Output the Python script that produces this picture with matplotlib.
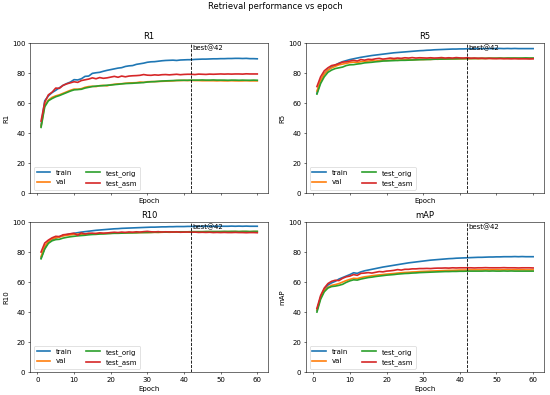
import matplotlib
matplotlib.use("Agg")
import matplotlib.pyplot as plt

epochs = list(range(1, 61))
best_epoch = 42
series_names = ["train", "val", "test_orig", "test_asm"]
metrics = ["R1", "R5", "R10", "mAP"]

# R1
r1_train = [45.0, 61.5, 64.8, 67.0, 68.5, 70.2, 71.8, 73.0, 74.0, 75.6,
            75.4, 76.2, 77.8, 78.0, 79.8, 80.2, 80.5, 81.2, 81.8, 82.3,
            82.8, 83.3, 83.6, 84.4, 84.8, 85.0, 85.8, 86.2, 86.6, 87.2,
            87.5, 87.6, 87.9, 88.2, 88.4, 88.5, 88.6, 88.4, 88.7, 88.8,
            88.9, 88.9, 89.1, 89.2, 89.3, 89.3, 89.4, 89.5, 89.5, 89.6,
            89.6, 89.7, 89.7, 89.8, 89.8, 89.7, 89.8, 89.6, 89.6, 89.5]
r1_val = [44.5, 58.5, 62.0, 63.8, 64.8, 65.5, 66.5, 67.5, 68.5, 69.3,
          69.2, 69.6, 70.5, 71.0, 71.2, 71.0, 71.6, 71.8, 71.5, 72.2,
          72.5, 72.8, 72.9, 73.2, 73.4, 73.5, 73.6, 74.0, 73.8, 74.2,
          74.3, 74.3, 74.4, 74.5, 74.6, 74.7, 74.8, 75.0, 75.0, 75.1,
          75.0, 75.1, 75.0, 75.0, 74.9, 74.9, 74.9, 74.9, 74.8, 74.9,
          74.8, 74.8, 74.9, 74.8, 74.8, 74.8, 74.9, 74.8, 74.8, 74.8]
r1_test_orig = [43.8, 57.5, 61.5, 63.0, 64.2, 65.0, 66.0, 67.0, 68.0, 68.8,
                69.0, 69.2, 70.0, 70.5, 71.0, 71.3, 71.5, 71.6, 71.9, 72.0,
                72.3, 72.5, 72.8, 73.0, 73.1, 73.2, 73.4, 73.5, 73.7, 74.0,
                74.2, 74.3, 74.5, 74.7, 74.8, 74.9, 75.0, 75.1, 75.2, 75.2,
                75.2, 75.3, 75.3, 75.3, 75.4, 75.3, 75.3, 75.4, 75.3, 75.3,
                75.3, 75.2, 75.3, 75.3, 75.2, 75.3, 75.2, 75.2, 75.3, 75.2]
r1_test_asm = [48.0, 60.5, 65.5, 67.2, 70.0, 69.8, 71.8, 72.8, 73.5, 74.2,
               73.8, 75.0, 75.5, 76.0, 76.8, 76.2, 77.0, 76.5, 76.8, 77.3,
               77.8, 77.2, 78.0, 77.5, 78.0, 78.2, 78.3, 78.5, 79.0, 78.6,
               78.5, 78.8, 78.6, 78.9, 79.0, 78.8, 79.0, 79.2, 78.9, 79.1,
               79.2, 79.2, 79.0, 79.3, 79.2, 79.1, 79.3, 79.2, 79.3, 79.4,
               79.3, 79.4, 79.3, 79.4, 79.4, 79.3, 79.5, 79.4, 79.4, 79.4]

# R5
r5_train = [66.5, 74.5, 79.5, 82.0, 84.0, 85.3, 86.6, 87.6, 88.3, 89.0,
            89.5, 90.0, 90.5, 90.9, 91.3, 91.7, 92.0, 92.3, 92.6, 92.9,
            93.2, 93.5, 93.7, 93.9, 94.1, 94.3, 94.5, 94.7, 94.9, 95.0,
            95.2, 95.3, 95.5, 95.6, 95.7, 95.8, 95.9, 96.0, 96.0, 96.1,
            96.1, 96.2, 96.2, 96.2, 96.3, 96.3, 96.3, 96.3, 96.3, 96.4,
            96.4, 96.3, 96.4, 96.3, 96.4, 96.3, 96.3, 96.3, 96.3, 96.3]
r5_val = [68.0, 75.0, 79.5, 82.0, 83.5, 84.5, 85.5, 86.0, 86.5, 87.0,
          87.3, 87.0, 87.6, 87.8, 88.0, 88.2, 88.0, 88.3, 88.5, 88.4,
          88.6, 88.8, 88.5, 88.7, 88.9, 89.0, 88.8, 89.0, 89.1, 89.0,
          89.2, 89.1, 89.3, 89.2, 89.4, 89.3, 89.5, 89.4, 89.5, 89.5,
          89.6, 89.6, 89.6, 89.7, 89.6, 89.7, 89.7, 89.8, 89.7, 89.8,
          89.8, 89.7, 89.8, 89.8, 89.8, 89.7, 89.8, 89.8, 89.8, 89.8]
r5_test_orig = [66.0, 73.0, 77.5, 80.5, 82.0, 83.0, 83.5, 84.0, 85.0, 85.5,
                85.6, 86.0, 86.3, 86.8, 87.0, 87.2, 87.5, 87.7, 88.0, 88.1,
                88.2, 88.3, 88.4, 88.5, 88.5, 88.6, 88.7, 88.8, 88.9, 89.0,
                89.0, 89.1, 89.2, 89.3, 89.3, 89.4, 89.4, 89.5, 89.5, 89.6,
                89.6, 89.7, 89.7, 89.7, 89.8, 89.8, 89.8, 89.9, 89.9, 89.9,
                90.0, 89.9, 90.0, 90.0, 90.0, 90.0, 90.0, 90.1, 90.0, 90.0]
r5_test_asm = [71.0, 77.5, 81.5, 83.5, 85.0, 85.5, 86.3, 87.3, 87.5, 88.0,
               88.5, 88.0, 89.0, 88.6, 89.2, 89.0, 89.5, 89.8, 89.3, 89.6,
               90.0, 89.7, 90.0, 89.8, 90.2, 90.0, 90.3, 90.0, 90.2, 90.1,
               90.0, 90.2, 90.0, 90.1, 90.3, 90.0, 90.2, 90.0, 90.3, 90.1,
               90.0, 90.2, 89.9, 90.0, 89.8, 89.9, 89.7, 89.8, 89.7, 89.6,
               89.7, 89.6, 89.6, 89.5, 89.6, 89.5, 89.5, 89.5, 89.4, 89.5]

# R10
r10_train = [76.0, 82.5, 86.5, 88.3, 89.3, 90.3, 91.0, 91.6, 92.1, 92.5,
             92.9, 93.3, 93.6, 93.9, 94.2, 94.5, 94.7, 94.9, 95.1, 95.3,
             95.5, 95.6, 95.8, 95.9, 96.0, 96.1, 96.2, 96.3, 96.4, 96.5,
             96.6, 96.6, 96.7, 96.8, 96.8, 96.9, 96.9, 97.0, 97.0, 97.0,
             97.1, 97.1, 97.1, 97.1, 97.2, 97.2, 97.2, 97.2, 97.2, 97.2,
             97.2, 97.2, 97.3, 97.2, 97.3, 97.2, 97.3, 97.2, 97.2, 97.2]
r10_val = [77.0, 84.0, 87.0, 88.8, 89.5, 90.0, 90.8, 91.2, 91.5, 91.8,
           92.0, 91.7, 92.2, 92.3, 92.0, 92.4, 92.5, 92.3, 92.6, 92.5,
           92.7, 92.8, 92.6, 92.9, 92.8, 93.0, 92.9, 93.0, 93.1, 93.0,
           93.1, 93.2, 93.1, 93.2, 93.3, 93.2, 93.3, 93.3, 93.4, 93.3,
           93.4, 93.4, 93.4, 93.5, 93.4, 93.5, 93.5, 93.5, 93.5, 93.5,
           93.5, 93.6, 93.5, 93.6, 93.5, 93.6, 93.6, 93.5, 93.6, 93.6]
r10_test_orig = [75.5, 82.0, 85.8, 87.5, 88.3, 88.5, 89.3, 89.8, 90.2, 90.5,
                 90.8, 91.0, 91.2, 91.5, 91.7, 91.8, 92.0, 92.1, 92.2, 92.4,
                 92.5, 92.5, 92.6, 92.7, 92.8, 92.8, 92.9, 93.0, 93.0, 93.1,
                 93.1, 93.2, 93.2, 93.3, 93.3, 93.4, 93.4, 93.4, 93.5, 93.5,
                 93.5, 93.6, 93.6, 93.6, 93.6, 93.7, 93.7, 93.7, 93.7, 93.7,
                 93.8, 93.7, 93.8, 93.8, 93.7, 93.8, 93.8, 93.7, 93.8, 93.8]
r10_test_asm = [80.0, 86.0, 88.0, 89.5, 90.5, 90.3, 91.5, 91.8, 92.2, 92.5,
                91.2, 92.8, 92.0, 92.5, 92.6, 92.3, 92.8, 92.6, 92.7, 93.0,
                93.2, 93.0, 93.3, 93.1, 93.4, 93.2, 93.5, 93.3, 93.6, 93.8,
                93.5, 93.4, 93.6, 93.3, 93.5, 93.4, 93.3, 93.5, 93.2, 93.3,
                93.4, 93.2, 93.3, 93.1, 93.2, 93.1, 93.2, 93.0, 93.1, 93.0,
                93.1, 93.0, 93.0, 93.1, 93.0, 93.0, 92.9, 93.0, 93.0, 92.9]

# mAP
map_train = [41.0, 50.0, 55.0, 58.0, 59.5, 60.5, 62.0, 63.0, 64.0, 65.0,
             66.2, 65.8, 66.8, 67.5, 68.0, 68.5, 69.0, 69.5, 70.0, 70.4,
             70.8, 71.2, 71.6, 72.0, 72.4, 72.8, 73.1, 73.4, 73.7, 74.0,
             74.3, 74.6, 74.8, 75.0, 75.2, 75.4, 75.6, 75.7, 75.9, 76.0,
             76.1, 76.2, 76.3, 76.4, 76.5, 76.5, 76.6, 76.7, 76.7, 76.8,
             76.8, 76.9, 76.9, 76.9, 77.0, 76.9, 77.0, 76.9, 76.9, 76.9]
map_val = [41.5, 49.5, 54.5, 56.5, 57.8, 58.3, 59.0, 60.0, 61.0, 61.8,
           62.5, 62.3, 63.0, 63.5, 63.8, 64.2, 64.5, 64.8, 65.0, 65.3,
           65.5, 65.7, 66.0, 66.2, 66.4, 66.5, 66.7, 66.8, 67.0, 67.1,
           67.2, 67.3, 67.4, 67.5, 67.6, 67.7, 67.8, 67.8, 67.9, 68.0,
           68.0, 68.0, 68.1, 68.1, 68.1, 68.1, 68.2, 68.1, 68.2, 68.2,
           68.1, 68.2, 68.2, 68.1, 68.2, 68.1, 68.2, 68.1, 68.1, 68.1]
map_test_orig = [40.0, 48.5, 53.5, 56.0, 57.0, 57.3, 57.8, 58.5, 59.8, 60.8,
                 61.5, 61.3, 62.0, 62.5, 63.0, 63.3, 63.7, 64.0, 64.3, 64.6,
                 64.8, 65.0, 65.3, 65.5, 65.7, 65.8, 66.0, 66.1, 66.3, 66.4,
                 66.5, 66.6, 66.7, 66.8, 66.9, 67.0, 67.0, 67.1, 67.1, 67.2,
                 67.2, 67.3, 67.3, 67.3, 67.3, 67.3, 67.4, 67.3, 67.4, 67.3,
                 67.3, 67.4, 67.3, 67.4, 67.3, 67.3, 67.3, 67.3, 67.3, 67.3]
map_test_asm = [42.5, 51.0, 56.0, 59.0, 60.5, 61.2, 61.0, 62.5, 63.5, 64.0,
                65.0, 64.5, 65.8, 66.0, 66.3, 66.0, 66.5, 67.0, 66.8, 67.3,
                67.5, 67.8, 68.3, 68.0, 68.5, 68.5, 68.8, 68.8, 69.0, 69.0,
                69.1, 69.0, 69.2, 69.3, 69.3, 69.4, 69.3, 69.5, 69.4, 69.5,
                69.5, 69.5, 69.5, 69.4, 69.5, 69.5, 69.6, 69.5, 69.5, 69.5,
                69.5, 69.6, 69.5, 69.5, 69.5, 69.4, 69.5, 69.5, 69.5, 69.4]

data = {
    "R1": [r1_train, r1_val, r1_test_orig, r1_test_asm],
    "R5": [r5_train, r5_val, r5_test_orig, r5_test_asm],
    "R10": [r10_train, r10_val, r10_test_orig, r10_test_asm],
    "mAP": [map_train, map_val, map_test_orig, map_test_asm],
}

fig, axes = plt.subplots(2, 2, figsize=(11, 7.9), dpi=50, sharex=True)

for ax, metric in zip(axes.flatten(), metrics):
    for name, vals in zip(series_names, data[metric]):
        ax.plot(epochs, vals, label=name, linewidth=2.4)
    ax.axvline(best_epoch, color="k", linestyle="--", linewidth=1.2)
    ax.text(best_epoch + 0.3, 97, "best@42", va="center")
    ax.set_ylim(0, 100)
    ax.set_title(metric)
    ax.set_xlabel("Epoch")
    ax.set_ylabel(metric)
    ax.legend(loc="lower left", ncol=2)

fig.suptitle("Retrieval performance vs epoch", y=0.995, va="top")
fig.subplots_adjust(left=0.055, right=0.989, bottom=0.058, top=0.891,
                    wspace=0.16, hspace=0.193)
fig.savefig("out.png")
